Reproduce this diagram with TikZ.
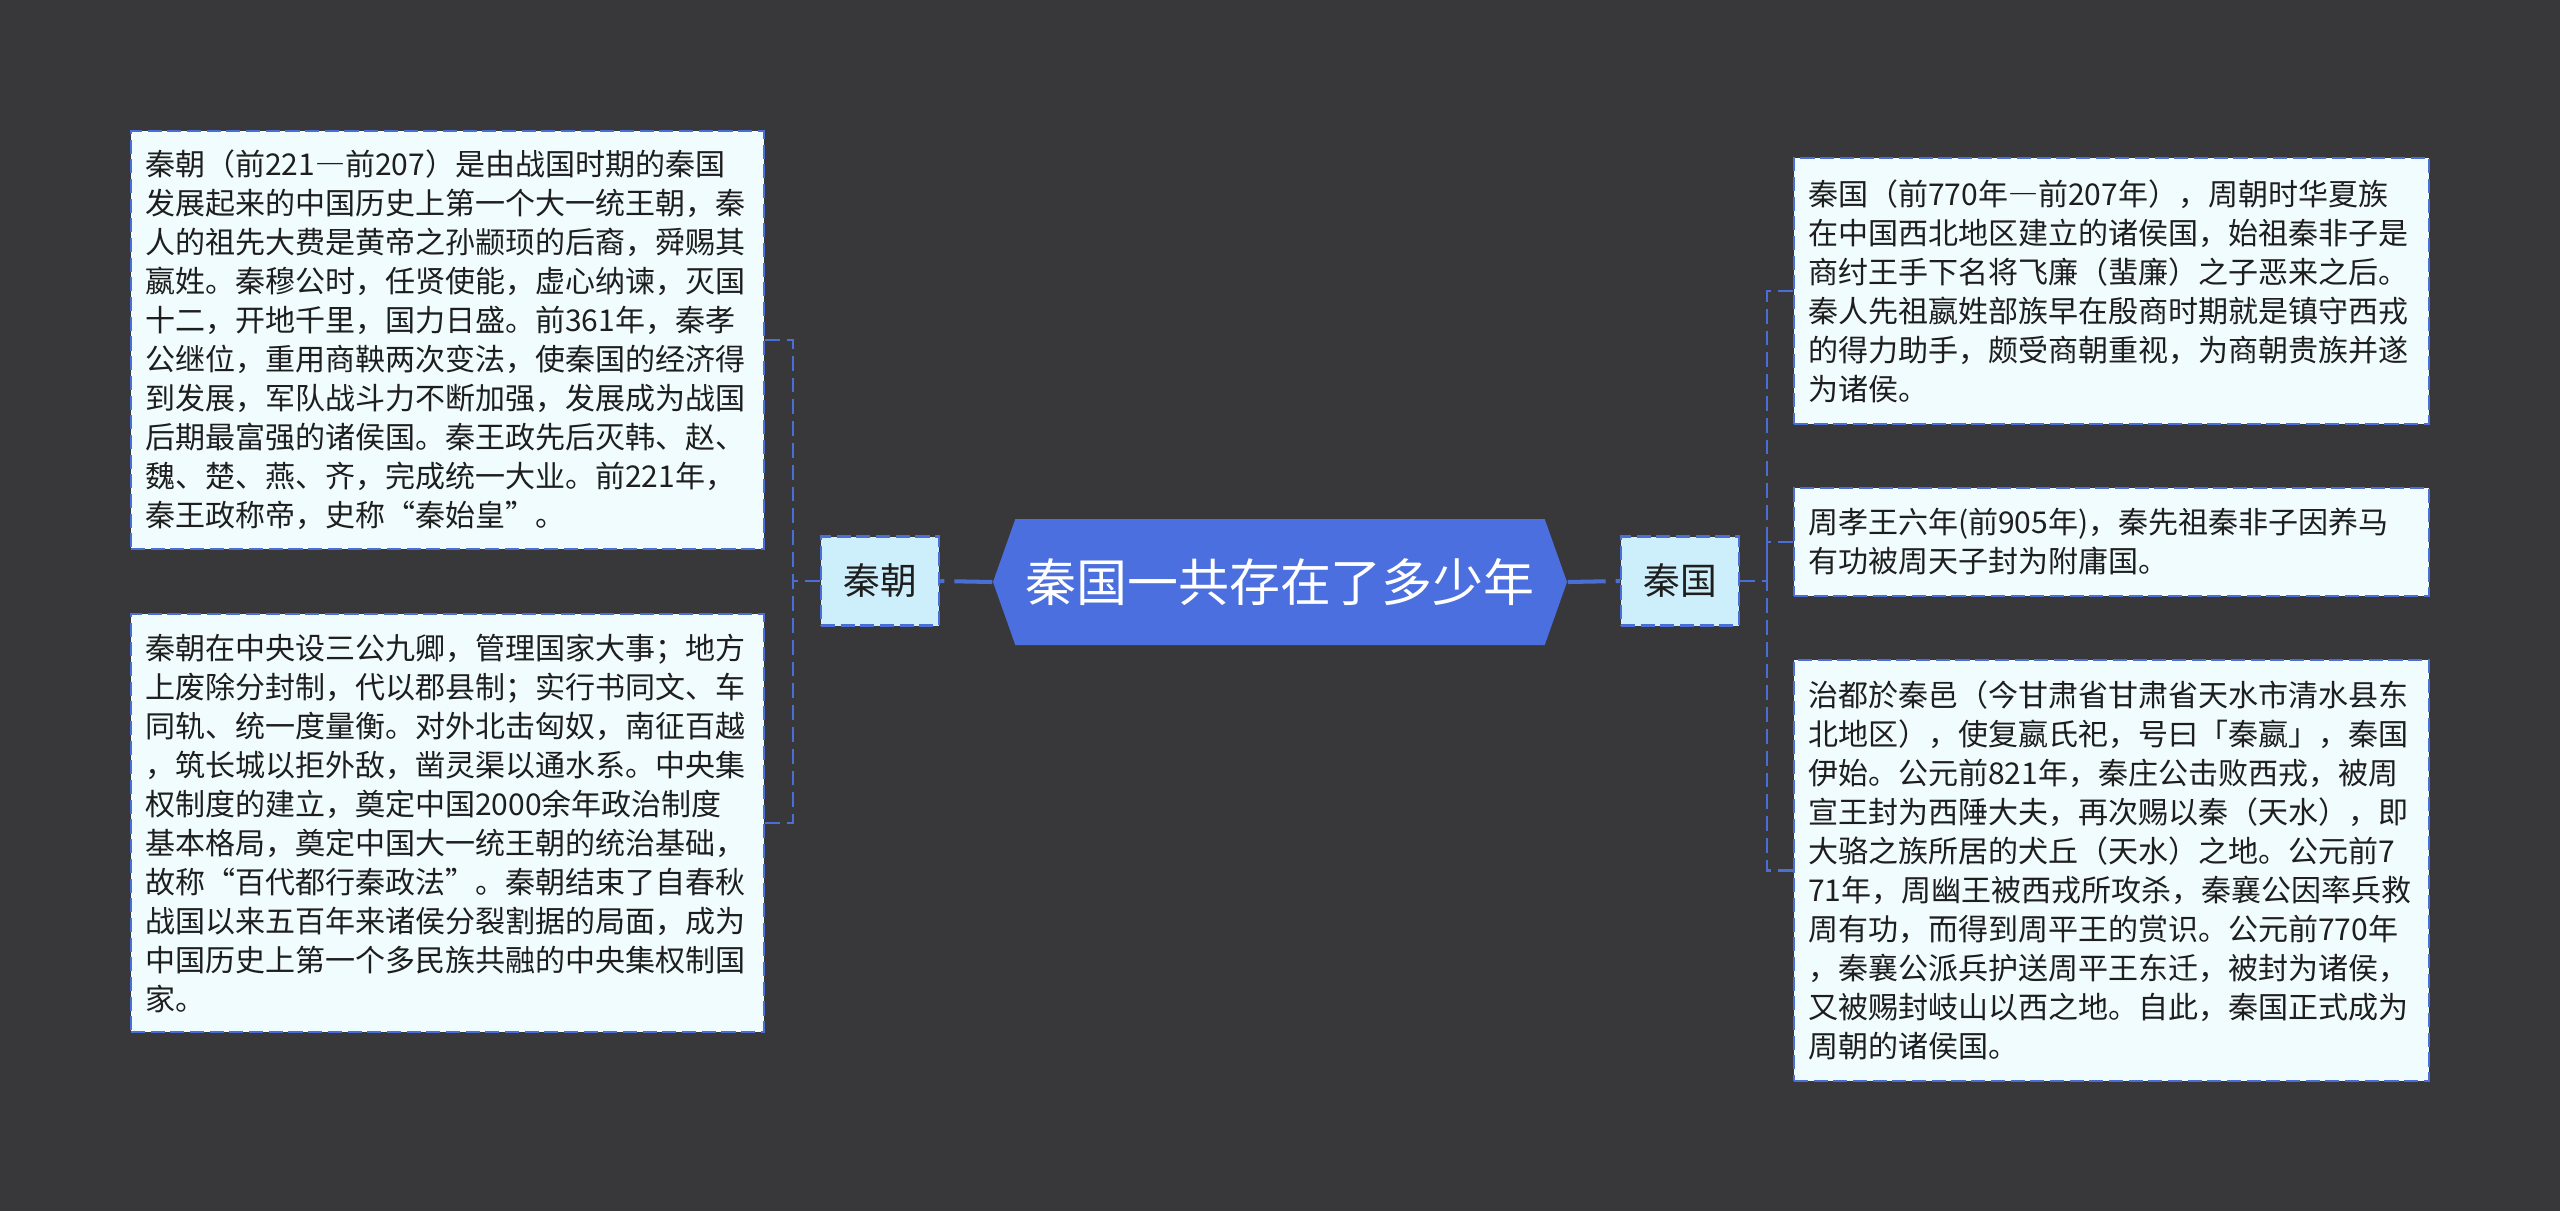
\documentclass[tikz,border=0pt]{standalone}
\usepackage{fontspec}
\setmainfont{Noto Sans CJK SC}
\usepackage{tikz}
\usetikzlibrary{shapes.symbols}

\definecolor{bgdark}{HTML}{38383A}
\definecolor{lineblue}{HTML}{4A6ED6}
\definecolor{rootblue}{HTML}{4B6FDF}
\definecolor{midfill}{HTML}{CDEEFB}
\definecolor{leaffill}{HTML}{F1FCFE}
\definecolor{inkdark}{HTML}{1E1E1E}
% full width dash
\newcommand{\wdash}{{\addfontfeature{CharacterWidth=Full}—}}

\begin{document}
\begin{tikzpicture}[
    infobox/.style={draw=lineblue, fill=leaffill, line width=0.7pt,
      dash pattern=on 4pt off 1.6pt, text=inkdark, align=left,
      text width=6.05cm, inner xsep=0.14cm, minimum width=6.33cm,
      font=\fontsize{8.54pt}{11.1pt}\selectfont},
    midbox/.style={draw=lineblue, fill=midfill, line width=0.7pt,
      dash pattern=on 4pt off 1.6pt, text=inkdark,
      minimum width=1.18cm, minimum height=0.89cm, inner sep=0pt,
      font=\fontsize{10.45pt}{12pt}\selectfont},
    trunk/.style={draw=lineblue, line width=1.15pt, dash pattern=on 10.8pt off 2.85pt},
    twig/.style={draw=lineblue, line width=0.8pt, dash pattern=on 4.2pt off 2pt}
  ]
  % canvas 2560x1211, 1px = 0.01cm
  \fill[bgdark] (0,0) rectangle (25.6,-12.11);
  \useasboundingbox (0,0) rectangle (25.6,-12.11);

  % topic
  \node[signal, signal to=west and east, signal pointer angle=141,
    fill=rootblue, text=white, minimum width=5.74cm, minimum height=1.26cm,
    inner sep=0pt, font=\fontsize{14.5pt}{16pt}\selectfont]
    (root) at (12.80,-5.82) {秦国一共存在了多少年};

  % branches
  \node[midbox] (qinchao) at (8.80,-5.81) {秦朝};
  \node[midbox] (qinguo) at (16.80,-5.81) {秦国};

  % left leaves
  \node[infobox, minimum height=4.18cm] (chaoA) at (4.475,-3.40) {%
    秦朝（前221\wdash 前207）是由战国时期的秦国\\
    发展起来的中国历史上第一个大一统王朝，秦\\
    人的祖先大费是黄帝之孙颛顼的后裔，舜赐其\\
    嬴姓。秦穆公时，任贤使能，虚心纳谏，灭国\\
    十二，开地千里，国力日盛。前361年，秦孝\\
    公继位，重用商鞅两次变法，使秦国的经济得\\
    到发展，军队战斗力不断加强，发展成为战国\\
    后期最富强的诸侯国。秦王政先后灭韩、赵、\\
    魏、楚、燕、齐，完成统一大业。前221年，\\
    秦王政称帝，史称“秦始皇”。};
  \node[infobox, minimum height=4.18cm] (chaoB) at (4.475,-8.23) {%
    秦朝在中央设三公九卿，管理国家大事；地方\\
    上废除分封制，代以郡县制；实行书同文、车\\
    同轨、统一度量衡。对外北击匈奴，南征百越\\
    ，筑长城以拒外敌，凿灵渠以通水系。中央集\\
    权制度的建立，奠定中国2000余年政治制度\\
    基本格局，奠定中国大一统王朝的统治基础，\\
    故称“百代都行秦政法”。秦朝结束了自春秋\\
    战国以来五百年来诸侯分裂割据的局面，成为\\
    中国历史上第一个多民族共融的中央集权制国\\
    家。};

  % right leaves
  \node[infobox, minimum height=2.66cm, text width=6.07cm, minimum width=6.35cm]
    (guoA) at (21.115,-2.91) {%
    秦国（前770年\wdash 前207年），周朝时华夏族\\
    在中国西北地区建立的诸侯国，始祖秦非子是\\
    商纣王手下名将飞廉（蜚廉）之子恶来之后。\\
    秦人先祖嬴姓部族早在殷商时期就是镇守西戎\\
    的得力助手，颇受商朝重视，为商朝贵族并遂\\
    为诸侯。};
  \node[infobox, minimum height=1.08cm, text width=6.07cm, minimum width=6.35cm]
    (guoB) at (21.115,-5.42) {%
    周孝王六年(前905年)，秦先祖秦非子因养马\\
    有功被周天子封为附庸国。};
  \node[infobox, minimum height=4.21cm, text width=6.07cm, minimum width=6.35cm]
    (guoC) at (21.115,-8.705) {%
    治都於秦邑（今甘肃省甘肃省天水市清水县东\\
    北地区），使复嬴氏祀，号曰「秦嬴」，秦国\\
    伊始。公元前821年，秦庄公击败西戎，被周\\
    宣王封为西陲大夫，再次赐以秦（天水），即\\
    大骆之族所居的犬丘（天水）之地。公元前7\\
    71年，周幽王被西戎所攻杀，秦襄公因率兵救\\
    周有功，而得到周平王的赏识。公元前770年\\
    ，秦襄公派兵护送周平王东迁，被封为诸侯，\\
    又被赐封岐山以西之地。自此，秦国正式成为\\
    周朝的诸侯国。};

  % connectors
  \coordinate (lfork) at (7.93,-5.81);
  \coordinate (rfork) at (17.67,-5.81);
  \draw[trunk] (root.west) -- (qinchao.east);
  \draw[trunk] (root.east) -- (qinguo.west);
  \draw[twig] (qinchao.west) -- (lfork);
  \draw[twig] (chaoA.east) -| (lfork);
  \draw[twig] (chaoB.east) -| (lfork);
  \draw[twig] (qinguo.east) -- (rfork);
  \draw[twig] (guoA.west) -| (rfork);
  \draw[twig] (guoB.west) -| (rfork);
  \draw[twig] (guoC.west) -| (rfork);
\end{tikzpicture}
\end{document}
